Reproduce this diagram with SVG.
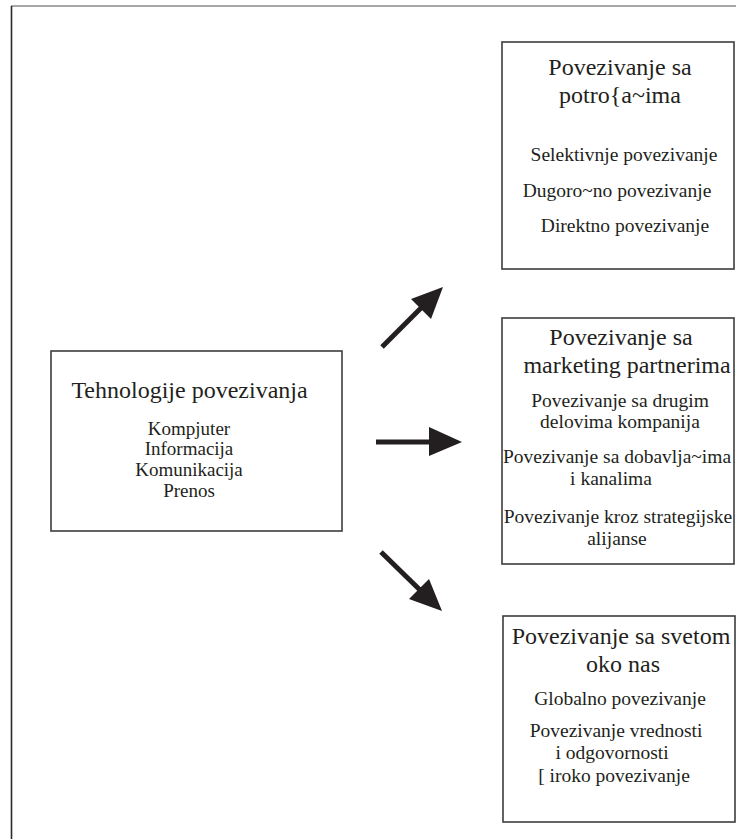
<svg xmlns="http://www.w3.org/2000/svg" width="745" height="839" viewBox="0 0 745 839">
  <style>
    .box { fill: #ffffff; stroke: #3c3c3c; stroke-width: 1.6; }
    .edge-top { stroke: #8a8a8a; stroke-width: 1.6; }
    .edge-left { stroke: #2a2a2a; stroke-width: 1.6; }
    text { font-family: "Liberation Serif", "DejaVu Serif", serif; fill: #231f20; text-anchor: middle; }
    .title { font-size: 24px; }
    .item { font-size: 19.5px; }
    .sub { font-size: 19px; }
    .arrow { stroke: #231f20; stroke-width: 5; fill: none; }
    .head { fill: #231f20; }
  </style>
  <rect width="745" height="839" fill="#ffffff"/>

  <!-- page border: top and left edges -->
  <line class="edge-top" x1="11" y1="6" x2="736" y2="6"/>
  <line class="edge-left" x1="11.5" y1="6" x2="11.5" y2="839"/>

  <g id="tehnologije">
    <rect class="box" x="51" y="351" width="291" height="180"/>
    <text class="title" x="189.5" y="398">Tehnologije povezivanja</text>
    <text class="sub" x="189" y="435">Kompjuter</text>
    <text class="sub" x="189" y="455">Informacija</text>
    <text class="sub" x="189" y="476">Komunikacija</text>
    <text class="sub" x="189" y="497">Prenos</text>
  </g>

  <g id="potrosaci">
    <rect class="box" x="502" y="42" width="232" height="227"/>
    <text class="title" x="620" y="75">Povezivanje sa</text>
    <text class="title" x="620" y="103">potro{a~ima</text>
    <text class="item" x="624" y="161">Selektivnje povezivanje</text>
    <text class="item" x="617" y="197">Dugoro~no povezivanje</text>
    <text class="item" x="625" y="232">Direktno povezivanje</text>
  </g>

  <g id="partneri">
    <rect class="box" x="502" y="318" width="232" height="246"/>
    <text class="title" x="621" y="345">Povezivanje sa</text>
    <text class="title" x="627" y="373">marketing partnerima</text>
    <text class="item" x="620" y="407">Povezivanje sa drugim</text>
    <text class="item" x="620" y="428">delovima kompanija</text>
    <text class="item" x="617" y="463">Povezivanje sa dobavlja~ima</text>
    <text class="item" x="611" y="485">i kanalima</text>
    <text class="item" x="618" y="523">Povezivanje kroz strategijske</text>
    <text class="item" x="617" y="545">alijanse</text>
  </g>

  <g id="svet">
    <rect class="box" x="503" y="616" width="232" height="206"/>
    <text class="title" x="621" y="644">Povezivanje sa svetom</text>
    <text class="title" x="623" y="672">oko nas</text>
    <text class="item" x="620" y="705">Globalno povezivanje</text>
    <text class="item" x="616" y="737">Povezivanje vrednosti</text>
    <text class="item" x="612" y="759">i odgovornosti</text>
    <text class="item" x="614" y="782">[ iroko povezivanje</text>
  </g>

  <g id="connectors">
    <line class="arrow" x1="382" y1="347" x2="422" y2="307"/>
    <polygon class="head" points="443,287 411,299 431,319"/>
    <line class="arrow" x1="376" y1="442" x2="432" y2="442"/>
    <polygon class="head" points="462,442 429,427 429,456"/>
    <line class="arrow" x1="381" y1="552" x2="420" y2="590"/>
    <polygon class="head" points="442,611 409,599 429,579"/>
  </g>
</svg>
